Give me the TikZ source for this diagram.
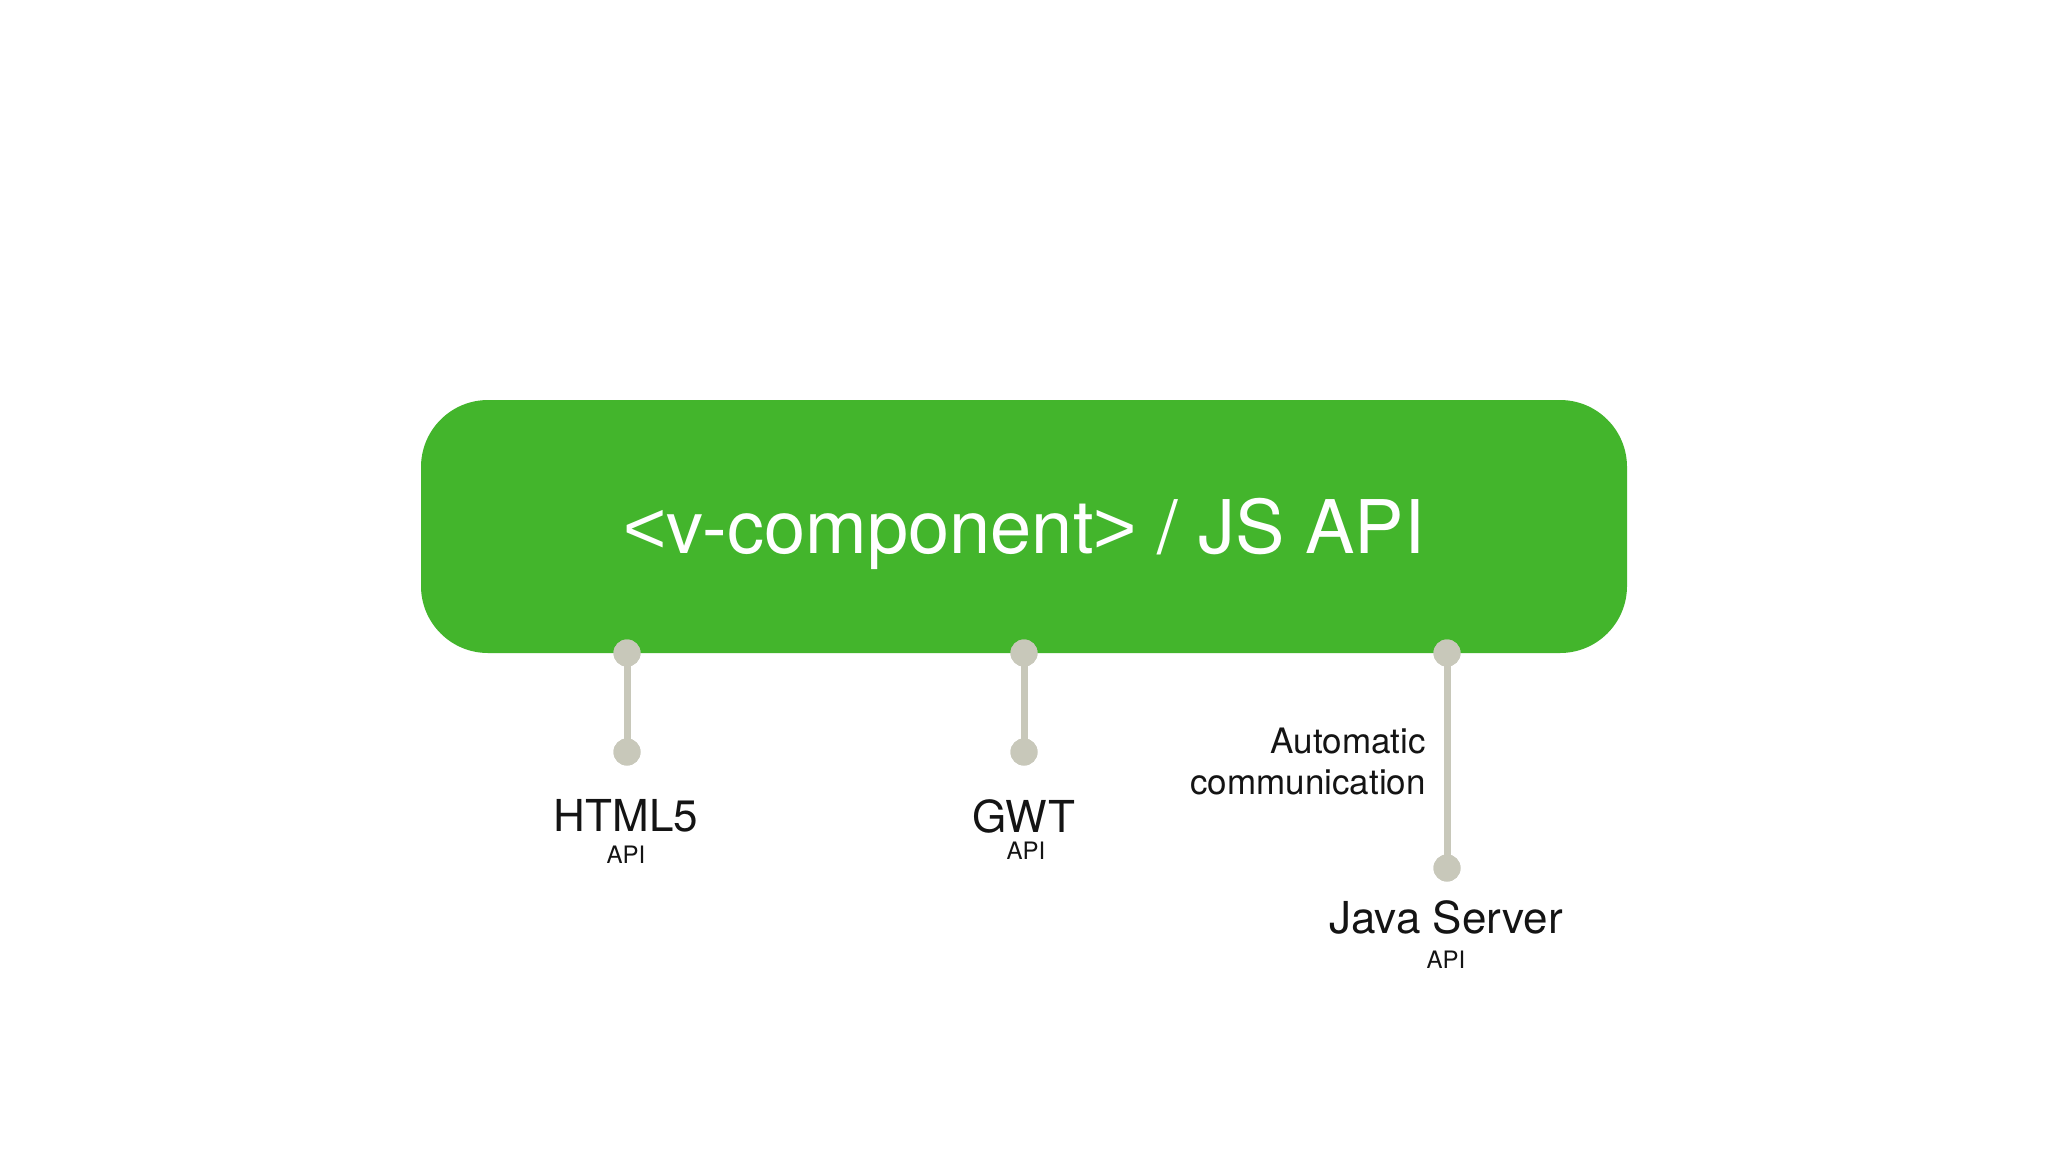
\documentclass[tikz,border=0pt]{standalone}
\usepackage{fontspec}
\setmainfont{TeX Gyre Heros}
\newfontfamily\arialfont{Liberation Sans}
\definecolor{vgreen}{RGB}{67,181,44}
\definecolor{pin}{RGB}{200,200,186}
\definecolor{ink}{RGB}{20,20,20}
\begin{document}
\begin{tikzpicture}[x=1pt,y=-1pt,
  pindot/.style={circle,fill=pin,draw=none,inner sep=0pt,minimum size=27pt},
  pinline/.style={draw=pin,line width=7pt},
  bigl/.style={anchor=base,text=ink,font=\fontsize{44}{50}\selectfont,inner sep=0pt},
  smalll/.style={anchor=base,text=ink,font=\fontsize{24}{28}\selectfont,inner sep=0pt},
  midl/.style={anchor=base east,text=ink,font=\fontsize{35}{41}\selectfont,inner sep=0pt}]
\useasboundingbox (0,0) rectangle (2048,1152);
\fill[white] (0,0) rectangle (2048,1152);
\node[fill=vgreen,draw=none,rounded corners=67pt,minimum width=1206pt,minimum height=253pt] (box) at (1024,526.5) {};
\node[anchor=base,inner sep=0pt,text=white,font=\fontsize{74}{80}\selectfont] (title) at (1024,553)
  {{\arialfont <}v-component{\arialfont >} / JS API};
% connectors
\node[pindot] (t1) at (627,653) {};
\node[pindot] (t2) at (1024,653) {};
\node[pindot] (t3) at (1447,653) {};
\node[pindot] (b1) at (627,752) {};
\node[pindot] (b2) at (1024,752) {};
\node[pindot] (b3) at (1447,868) {};
\draw[pinline] (t1.center) -- (b1.center);
\draw[pinline] (t2.center) -- (b2.center);
\draw[pinline] (t3.center) -- (b3.center);
\node[pindot] at (t1) {};
\node[pindot] at (t2) {};
\node[pindot] at (t3) {};
\node[pindot] at (b1) {};
\node[pindot] at (b2) {};
\node[pindot] at (b3) {};
% labels
\node[bigl] (h5) at (626,831) {HTML5};
\node[smalll] (h5api) at (626,863) {API};
\node[bigl] (gwt) at (1024,832) {GWT};
\node[smalll] (gwtapi) at (1026,859) {API};
\node[midl] (auto1) at (1426,753) {Automatic};
\node[midl] (auto2) at (1426,794) {communication};
\node[bigl] (js) at (1446,933) {Java Server};
\node[smalll] (jsapi) at (1446,968) {API};
\end{tikzpicture}
\end{document}
